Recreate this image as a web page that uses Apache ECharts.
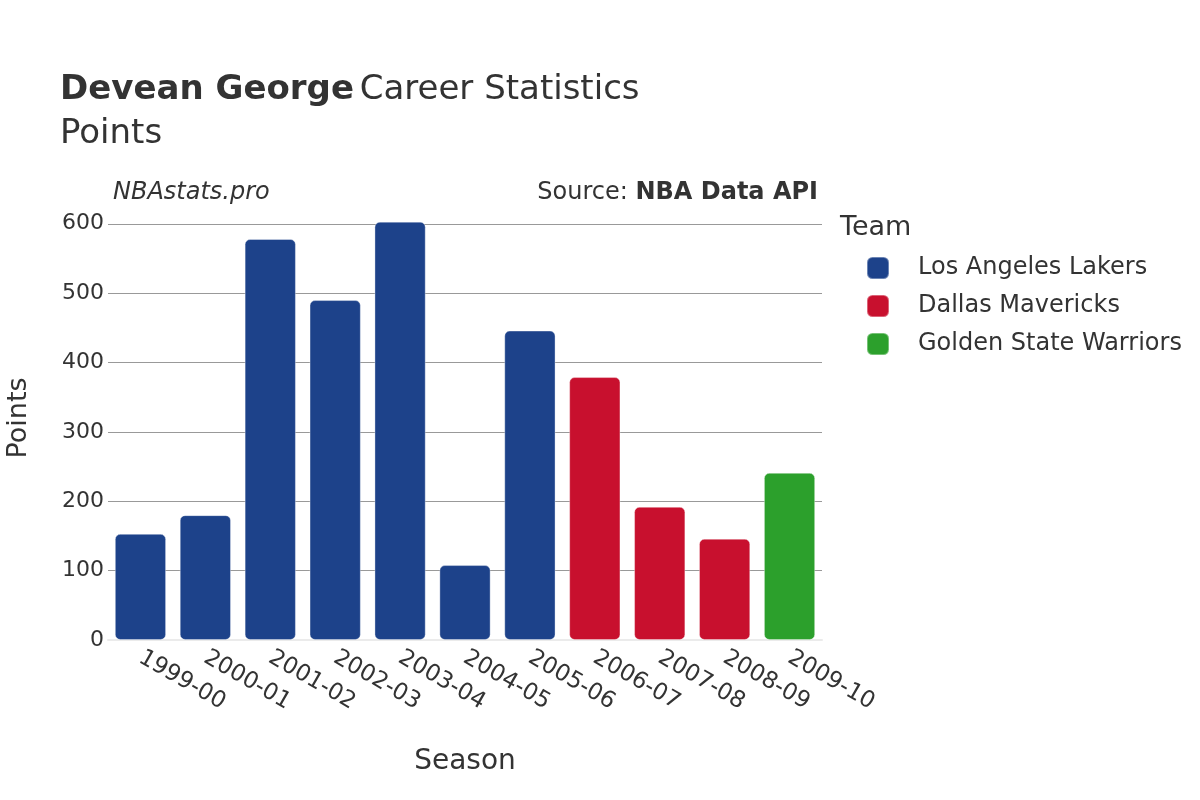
<!DOCTYPE html>
<html>
<head>
<meta charset="utf-8">
<script src="https://cdn.jsdelivr.net/npm/echarts@6/dist/echarts.min.js"></script>
<style>html,body{margin:0;padding:0;background:#fff}#c{width:1200px;height:800px}</style>
</head>
<body>
<div id="c"></div>
<script>
const seasons = ['1999-00','2000-01','2001-02','2002-03','2003-04','2004-05','2005-06','2006-07','2007-08','2008-09','2009-10'];
const teams = ['Los Angeles Lakers','Dallas Mavericks','Golden State Warriors'];
const teamColors = ['#1d428a','#c8102e','#2ca02c'];
const lakersPts = [153, 180, 578, 490, 603, 108, 446, null, null, null, null];
const mavsPts = [null, null, null, null, null, null, null, 379, 192, 146, null];
const warriorsPts = [null, null, null, null, null, null, null, null, null, null, 241];
const yTicks = [0,100,200,300,400,500,600];

const F = 'DejaVu Sans';
const chart = echarts.init(document.getElementById('c'));
const seriesData = [lakersPts, mavsPts, warriorsPts];
chart.setOption({
  animation: false,
  textStyle: {fontFamily: F},
  title: [
    {left: 60, top: 68, padding: 0, text: '{b|Devean George} {n|Career Statistics}\n{n|Points}',
     textStyle: {fontWeight: 'normal', rich: {b: {fontFamily: F, fontSize: 34, fontWeight: 'bold', color: '#333', lineHeight: 44},
                        n: {fontFamily: F, fontSize: 34, fontWeight: 'normal', color: '#333', lineHeight: 44}}}},
    {left: 113, top: 181, padding: 0, text: 'NBAstats.pro', textStyle: {fontFamily: F, fontSize: 24, fontStyle: 'italic', fontWeight: 'normal', color: '#333'}},
    {right: 382, top: 181, padding: 0, text: '{n|Source: }{b|NBA Data API}',
     textStyle: {fontWeight: 'normal', rich: {n: {fontFamily: F, fontSize: 24, fontWeight: 'normal', color: '#333'}, b: {fontFamily: F, fontSize: 24, fontWeight: 'bold', color: '#333'}}}},
    {left: 840, top: 214, padding: 0, text: 'Team', textStyle: {fontFamily: F, fontSize: 27, fontWeight: 'normal', color: '#333'}}
  ],
  legend: {
    orient: 'vertical', left: 866, top: 256, padding: 0, itemWidth: 22, itemHeight: 22, itemGap: 14,
    icon: 'roundRect', data: teams,
    textStyle: {fontFamily: F, fontSize: 24, color: '#333', padding: [0,0,0,24]}
  },
  grid: {left: 108, right: 378, top: 196, bottom: 160, containLabel: false, outerBoundsMode: 'none'},
  xAxis: {
    type: 'category', data: seasons,
    name: 'Season', nameLocation: 'middle', nameGap: 108,
    nameTextStyle: {fontFamily: F, fontSize: 28, color: '#333'},
    axisLine: {show: true, lineStyle: {color: '#ebebeb', width: 2}},
    axisTick: {show: false},
    axisLabel: {rotate: -30, fontFamily: F, fontSize: 23, color: '#333', margin: 16, interval: 0}
  },
  yAxis: {
    type: 'value', min: 0, max: 640, interval: 100,
    name: 'Points', nameLocation: 'middle', nameGap: 76,
    nameTextStyle: {fontFamily: F, fontSize: 27, color: '#333'},
    axisLine: {show: false}, axisTick: {show: false},
    axisLabel: {fontFamily: F, fontSize: 22, color: '#333', margin: 4, showMaxLabel: false,
      formatter: v => yTicks.includes(v) ? String(v) : ''},
    splitLine: {show: true, showMaxLine: false, showMinLine: false, lineStyle: {color: '#999', width: 1}}
  },
  series: teams.map((t, i) => ({
    name: t, type: 'bar', stack: 'all', data: seriesData[i],
    barWidth: '79%',
    itemStyle: {color: teamColors[i], borderRadius: 5, borderColor: 'rgba(255,255,255,0.35)', borderWidth: 1}
  }))
});
</script>
</body>
</html>
